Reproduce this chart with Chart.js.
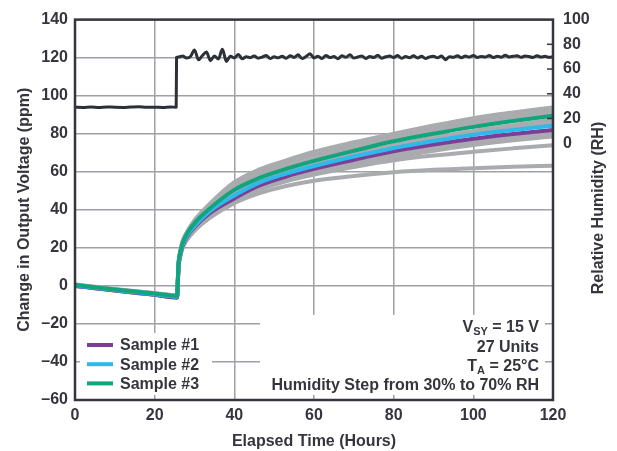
<!DOCTYPE html>
<html>
<head>
<meta charset="utf-8">
<script src="https://cdn.jsdelivr.net/npm/chart.js@4.4.0/dist/chart.umd.min.js"></script>
<style>
  html, body { margin: 0; padding: 0; background: #fff; }
</style>
</head>
<body>
<canvas id="myChart" width="617" height="451"></canvas>
<script>
// elapsed time (hours) for the ppm curves
const hours = [0, 5, 10, 15, 20, 25.6, 26.0, 26.5, 27, 28, 30, 34, 40, 46, 53, 60, 70, 80, 90, 100, 110, 120];

const sample1 = [0, -1.2, -2.4, -3.6, -4.7, -6.2, 10.5, 17, 21, 25.5, 31, 38.5, 46, 52.5, 57.5, 61.5, 66.3, 70.8, 74.3, 77.3, 79.8, 82];
const sample2 = [0.3, -1, -2.2, -3.3, -4.4, -5.7, 11, 17.5, 21.5, 26, 31.5, 39.5, 47.5, 54, 59, 63, 68, 72.5, 76.2, 79.5, 82, 84.2];
const sample3 = [0.5, -0.7, -1.9, -3, -4, -5.3, 12, 18.5, 22.5, 27, 33, 41, 50.5, 56.5, 61.5, 65.7, 71, 76, 80, 83.6, 86.7, 89.4];

// the other units, drawn in grey
const unitA = [0.8, -0.5, -1.6, -2.7, -3.7, -5, 12.5, 19, 23.5, 28, 34.5, 43.5, 54.5, 61, 66, 70.5, 75.5, 80, 84.3, 88.2, 91.2, 93.8];
const unitB = [0.6, -0.6, -1.8, -2.9, -3.9, -5.2, 12, 18.5, 23, 27.5, 34, 42.5, 53, 59.5, 64.5, 68.8, 73.8, 78.6, 82.7, 86.4, 89.4, 92];
const unitC = [0.4, -0.8, -2, -3.1, -4.1, -5.4, 12, 18.5, 22.5, 27, 33.5, 41.5, 51.5, 57.8, 62.6, 66.8, 72, 76.9, 80.9, 84.6, 87.6, 90.5];
const unitD = [0.3, -0.9, -2.1, -3.2, -4.3, -5.6, 11.5, 18, 22, 26, 32, 40, 49.5, 55.5, 60.5, 64.5, 69.5, 74, 78, 81.5, 84.5, 87.3];
const unitE = [0.2, -1, -2.2, -3.4, -4.5, -5.8, 11, 17.5, 21.5, 25.5, 31.5, 39.5, 48.5, 55, 59.8, 63.5, 68.2, 72.8, 76.5, 80, 82.8, 85.5];
const unitF = [0.1, -1.1, -2.3, -3.5, -4.6, -5.9, 10.5, 17, 21, 25, 30.5, 38, 46, 52.5, 57, 60.5, 65, 69.2, 72.5, 75.5, 78, 80.2];
const unitG = [0, -1.2, -2.4, -3.6, -4.7, -6, 10.5, 16.5, 20.5, 24.5, 30, 37, 45.5, 51, 55.5, 59, 63.5, 67.5, 71, 74, 76.5, 78.5];
const unitH = [0.2, -1, -2.2, -3.4, -4.5, -5.8, 10, 16, 20, 24, 29.5, 36.5, 45, 50.5, 55, 58.5, 62.5, 66, 68.5, 70.5, 72.3, 74];
const unitI = [0.1, -1.1, -2.3, -3.5, -4.6, -5.9, 10, 16, 20, 24, 29, 36, 43.5, 48.5, 52.5, 55.3, 57.8, 59.7, 61, 61.9, 62.6, 63.2];
const greyUnits = [unitA, unitB, unitC, unitD, unitE, unitF, unitG, unitH, unitI];

// relative humidity in the chamber (right axis)
const rhHours = [0, 2, 4, 6, 8, 10, 12, 14, 16, 18, 20, 22, 24, 25.4, 25.5,
  26, 27, 28, 29, 30, 31, 32, 33, 34, 35, 36, 37, 38, 39, 40, 41, 42, 43, 44, 45, 46, 47, 48, 49,
  50, 51, 52, 53, 54, 55, 56, 57, 58, 59, 60, 61, 62, 63, 64, 65, 66, 67, 68, 69,
  70, 71, 72, 73, 74, 75, 76, 77, 78, 79, 80, 81, 82, 83, 84, 85, 86, 87, 88, 89,
  90, 91, 92, 93, 94, 95, 96, 97, 98, 99, 100, 101, 102, 103, 104, 105, 106, 107, 108, 109,
  110, 111, 112, 113, 114, 115, 116, 117, 118, 119, 120];
const rhValues = [29.2, 29.0, 29.3, 28.9, 29.4, 29.1, 29.0, 29.3, 29.5, 29.1, 29.2, 29.0, 29.3, 29.1, 69.5,
  69.8, 70.5, 68.9, 70.2, 75.5, 67.5, 71.0, 73.8, 66.8, 70.5, 68.2, 76.0, 66.2, 70.4, 69.0, 71.8, 68.3, 70.0, 69.2, 70.6, 68.8, 69.7, 70.9, 68.5,
  69.9, 69.1, 70.3, 68.7, 70.8, 69.4, 71.5, 68.6, 70.2, 72.3, 69.0, 70.4, 68.5, 71.0, 69.3, 70.1, 68.4, 70.8, 69.5, 71.6,
  68.9, 69.8, 70.5, 68.6, 70.2, 69.3, 71.2, 68.8, 69.9, 70.6, 69.4, 70.9, 68.7, 70.1, 69.2, 70.7, 69.0, 70.3, 68.5, 69.8,
  70.4, 69.1, 70.6, 67.6, 70.0, 69.5, 70.8, 69.2, 70.5, 69.7, 71.0, 69.4, 70.2, 69.8, 70.9, 69.3, 70.4, 69.6, 71.1, 69.8,
  70.3, 70.7, 69.5, 70.6, 70.1, 69.4, 70.8, 69.7, 70.3, 69.5, 69.9];

const xTicks = [0, 20, 40, 60, 80, 100, 120];
const yTicks = [-60, -40, -20, 0, 20, 40, 60, 80, 100, 120, 140];
const rhTicks = [0, 20, 40, 60, 80, 100];

const FONT = "'Liberation Sans', Arial, sans-serif";
const ink = '#35363d';
const gridColor = '#a0a0a7';
const greyLine = '#a9abae';

function pts(xs, ys) {
  return xs.map((x, i) => ({ x: x, y: ys[i] }));
}

let datasets = [
  { label: 'Humidity', data: pts(rhHours, rhValues), yAxisID: 'y2', borderColor: '#2e3038', borderWidth: 3, tension: 0 },
  { label: 'Sample #3', data: pts(hours, sample3), yAxisID: 'y', borderColor: '#10a57a', borderWidth: 4 },
  { label: 'Sample #2', data: pts(hours, sample2), yAxisID: 'y', borderColor: '#2fb8ea', borderWidth: 4 },
  { label: 'Sample #1', data: pts(hours, sample1), yAxisID: 'y', borderColor: '#7b3f98', borderWidth: 4 }
];
greyUnits.forEach(u => {
  datasets.push({ label: '', data: pts(hours, u), yAxisID: 'y', borderColor: greyLine, borderWidth: 4 });
});

const legendItems = ['Sample #1', 'Sample #2', 'Sample #3'];
const legendColors = ['#7b3f98', '#2fb8ea', '#10a57a'];

const overlay = {
  id: 'overlay',
  beforeDatasetsDraw(chart) {
    const c = chart.ctx;
    c.save();
    c.fillStyle = '#fff';
    // blank the grid behind legend and notes, keep the little stubs at the frame
    c.fillRect(80, 333, 132, 62);
    c.fillRect(260, 315, 285, 80);
    c.restore();
  },
  afterDatasetsDraw(chart) {
    const c = chart.ctx;
    const a = chart.chartArea;
    const y2 = chart.scales.y2;
    c.save();
    c.strokeStyle = ink;
    c.lineWidth = 2.5;
    c.strokeRect(a.left, a.top, a.right - a.left, a.bottom - a.top);

    // inward ticks on the right axis
    c.lineWidth = 1.5;
    [20, 40, 60, 80].forEach(v => {
      const py = y2.getPixelForValue(v);
      c.beginPath();
      c.moveTo(a.right - 6, py);
      c.lineTo(a.right, py);
      c.stroke();
    });

    const big = 'bold 16px ' + FONT;
    const small = 'bold 11px ' + FONT;

    // legend
    c.font = big;
    c.textBaseline = 'middle';
    legendItems.forEach((t, i) => {
      const ly = 345 + i * 19.2;
      c.strokeStyle = legendColors[i];
      c.lineWidth = 4;
      c.beginPath();
      c.moveTo(87, ly);
      c.lineTo(113, ly);
      c.stroke();
      c.fillStyle = ink;
      c.textAlign = 'left';
      c.fillText(t, 120, ly + 1);
    });

    // notes, right aligned
    const rx = 539;
    c.textBaseline = 'alphabetic';
    c.fillStyle = ink;
    function subLine(main, sub, rest, by) {
      c.font = big;
      const w1 = c.measureText(main).width;
      const w3 = c.measureText(rest).width;
      c.font = small;
      const w2 = c.measureText(sub).width;
      let x = rx - (w1 + w2 + w3);
      c.textAlign = 'left';
      c.font = big;
      c.fillText(main, x, by);
      c.font = small;
      c.fillText(sub, x + w1, by + 3);
      c.font = big;
      c.fillText(rest, x + w1 + w2, by);
    }
    subLine('V', 'SY', ' = 15 V', 332);
    c.font = big;
    c.textAlign = 'right';
    c.fillText('27 Units', rx, 351.5);
    subLine('T', 'A', ' = 25°C', 371);
    c.font = big;
    c.textAlign = 'right';
    c.fillText('Humidity Step from 30% to 70% RH', rx, 390);

    // right axis title, reading upwards
    c.translate(599, 208);
    c.rotate(-Math.PI / 2);
    c.textAlign = 'center';
    c.textBaseline = 'middle';
    c.fillText('Relative Humidity (RH)', 0, 0);
    c.restore();
  }
};

let myChart = document.getElementById('myChart').getContext('2d');

const tickFont = { family: FONT, size: 16, weight: 'bold' };

let humidityChart = new Chart(myChart, {
  type: 'line',
  data: { datasets: datasets },
  options: {
    responsive: false,
    animation: false,
    devicePixelRatio: 1,
    layout: { padding: { top: 17, left: 0, right: 0, bottom: 0 } },
    elements: {
      point: { radius: 0 },
      line: { borderCapStyle: 'round', borderJoinStyle: 'round', cubicInterpolationMode: 'monotone' }
    },
    plugins: { legend: { display: false }, tooltip: { enabled: false } },
    scales: {
      x: {
        type: 'linear', min: 0, max: 120,
        afterBuildTicks: s => { s.ticks = xTicks.map(v => ({ value: v })); },
        afterFit: s => { s.height = 51; },
        grid: { color: gridColor, lineWidth: 1.5, drawTicks: false },
        border: { display: false },
        ticks: { padding: 6, color: ink, font: tickFont },
        title: { display: true, text: 'Elapsed Time (Hours)', color: ink, padding: { top: 4, bottom: 0 }, font: tickFont }
      },
      y: {
        min: -60, max: 140,
        afterBuildTicks: s => { s.ticks = yTicks.map(v => ({ value: v })); },
        afterFit: s => { s.width = 75; },
        grid: { color: gridColor, lineWidth: 1.5, drawTicks: false },
        border: { display: false },
        ticks: { padding: 7, color: ink, font: tickFont,
          callback: v => v < 0 ? '\u2013' + Math.abs(v) : String(v) },
        title: { display: true, text: 'Change in Output Voltage (ppm)', color: ink, padding: { top: 15, bottom: 4 }, font: tickFont }
      },
      y2: {
        position: 'right',
        min: -207.7, max: 100,
        afterBuildTicks: s => { s.ticks = rhTicks.map(v => ({ value: v })); },
        afterFit: s => { s.width = 64; },
        grid: { display: false, drawTicks: false },
        border: { display: false },
        ticks: { padding: 10, color: ink, font: tickFont }
      }
    }
  },
  plugins: [overlay]
});
</script>
</body>
</html>
